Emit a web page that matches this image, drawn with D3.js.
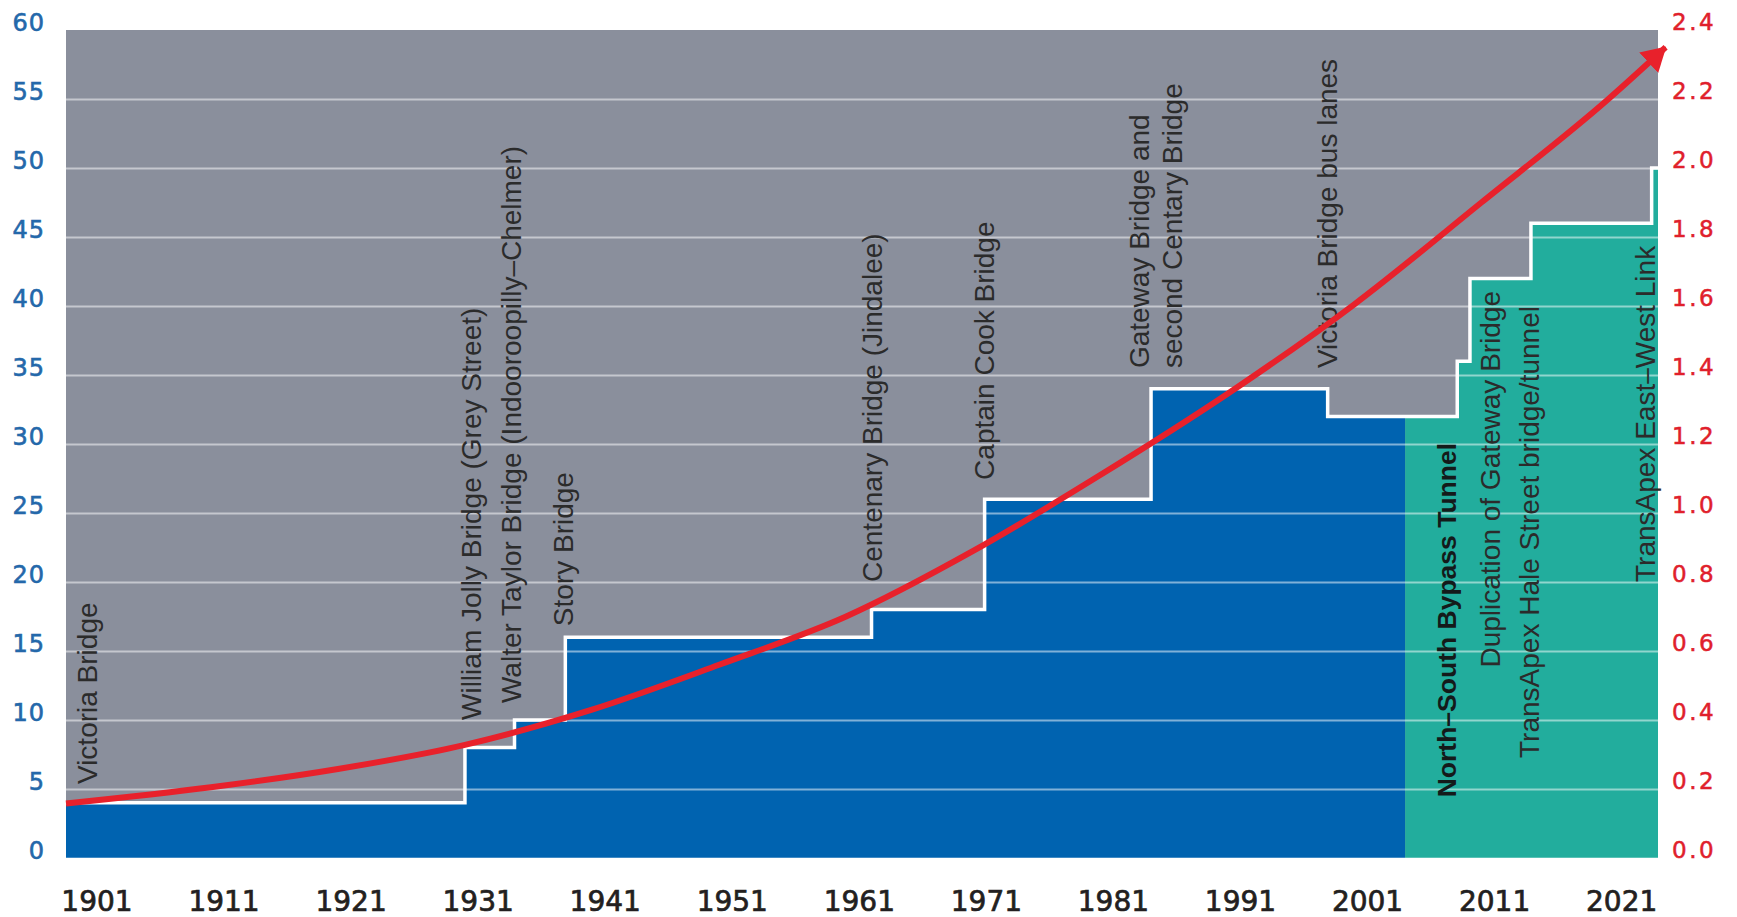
<!DOCTYPE html>
<html>
<head>
<meta charset="utf-8">
<script src="https://cdn.jsdelivr.net/npm/d3@7"></script>
<style>
  body { margin: 0; background: #ffffff; }
  .axis text { font-family: "DejaVu Sans", sans-serif; }
  .note { font-family: "Liberation Sans", Arial, sans-serif; font-size: 28px; fill: #2b2b2b; }
</style>
</head>
<body>
<svg></svg>
<script>
// lanes across the river, stepping up each time a crossing opened
var stepYears = [1898.6, 1930.0, 1933.9, 1937.9, 1962.0, 1970.9, 1984.0, 1997.9, 2008.1, 2009.1, 2013.9, 2023.4];
var laneCounts = [4, 8, 10, 16, 18, 26, 34, 32, 36, 42, 46, 50];
var plannedFrom = 2004.0; // teal part = planned projects
var lastYear = 2023.9;

// red growth curve, read on the right hand axis
var curveYears = [1898.6, 1910, 1920, 1930, 1940, 1950, 1960, 1970, 1980, 1990, 2000, 2010, 2020, 2024.5];
var curveValues = [0.158, 0.205, 0.258, 0.328, 0.43, 0.56, 0.70, 0.89, 1.11, 1.345, 1.605, 1.90, 2.20, 2.35];

// tick labels
var yearTicks = [1901, 1911, 1921, 1931, 1941, 1951, 1961, 1971, 1981, 1991, 2001, 2011, 2021];
var laneTicks = [0, 5, 10, 15, 20, 25, 30, 35, 40, 45, 50, 55, 60];
var rightTicks = [0, 0.2, 0.4, 0.6, 0.8, 1.0, 1.2, 1.4, 1.6, 1.8, 2.0, 2.2, 2.4];

// the annotations: text, year and lane value where the text starts
var noteTexts = [
  "Victoria Bridge",
  "William Jolly Bridge (Grey Street)",
  "Walter Taylor Bridge (Indooroopilly\u2013Chelmer)",
  "Story Bridge",
  "Centenary Bridge (Jindalee)",
  "Captain Cook Bridge",
  "Gateway Bridge and",
  "second Centary Bridge",
  "Victoria Bridge bus lanes",
  "North\u2013South Bypass Tunnel",
  "Duplication of Gateway Bridge",
  "TransApex Hale Street bridge/tunnel",
  "TransApex East\u2013West Link"
];
var noteYears = [1901.05, 1931.3, 1934.4, 1938.5, 1962.8, 1971.65, 1983.8, 1986.4, 1998.6, 2008.0, 2011.5, 2014.5, 2023.7];
var noteLanes = [5.36, 10.0, 11.23, 16.8, 20.0, 27.4, 35.5, 35.5, 35.5, 4.4, 13.8, 7.25, 20.0];
var noteBold = [false, false, false, false, false, false, false, false, false, true, false, false, false];

var makeTranslateString = function (x, y) {
  return "translate(" + x + "," + y + ")";
};

var drawAreas = function (target, graph, xScale, yScale) {
  var steps = stepYears.map(function (year, i) {
    return { year: year, lanes: laneCounts[i] };
  });

  var lanesAt = function (year) {
    var value = steps[0].lanes;
    steps.forEach(function (s) {
      if (s.year <= year) value = s.lanes;
    });
    return value;
  };

  var built = steps.filter(function (s) { return s.year < plannedFrom; });
  built.push({ year: plannedFrom, lanes: lanesAt(plannedFrom) });

  var planned = [{ year: plannedFrom, lanes: lanesAt(plannedFrom) }].concat(
    steps.filter(function (s) { return s.year > plannedFrom; })
  );
  planned.push({ year: lastYear, lanes: lanesAt(lastYear) });

  var area = d3.area()
    .curve(d3.curveStepAfter)
    .x(function (d) { return xScale(d.year); })
    .y0(graph.height)
    .y1(function (d) { return yScale(d.lanes); });

  target.append("rect")
    .attr("width", graph.width)
    .attr("height", graph.height)
    .attr("fill", "#8a8f9c");

  target.append("path").datum(built).attr("d", area).attr("fill", "#0063b0");
  target.append("path").datum(planned).attr("d", area).attr("fill", "#22ad9d");

  //grid lines on top of the fills
  var grid = d3.axisLeft(yScale)
    .tickValues(laneTicks.filter(function (t) { return t < 60; }))
    .tickSize(-graph.width)
    .tickFormat("");
  target.append("g")
    .attr("class", "grid")
    .call(grid)
    .call(function (g) { g.select(".domain").remove(); })
    .selectAll("line")
    .attr("stroke", "#ffffff")
    .attr("stroke-opacity", 0.5)
    .attr("stroke-width", 2);

  var outline = d3.line()
    .curve(d3.curveStepAfter)
    .x(function (d) { return xScale(d.year); })
    .y(function (d) { return yScale(d.lanes); });

  var all = steps.concat([{ year: lastYear, lanes: lanesAt(lastYear) }]);
  target.append("path")
    .datum(all)
    .attr("d", outline)
    .attr("fill", "none")
    .attr("stroke", "#ffffff")
    .attr("stroke-width", 3.5);
};

var drawNotes = function (target, xScale, yScale) {
  target.selectAll("text.note")
    .data(noteTexts)
    .enter()
    .append("text")
    .attr("class", "note")
    .attr("transform", function (d, i) {
      return makeTranslateString(xScale(noteYears[i]), yScale(noteLanes[i])) + " rotate(-90)";
    })
    .style("font-weight", function (d, i) { return noteBold[i] ? "bold" : "normal"; })
    .style("font-size", function (d, i) { return noteBold[i] ? "26.5px" : "28px"; })
    .style("fill", function (d, i) { return noteBold[i] ? "#141a1a" : "#2b2b2b"; })
    .text(function (d) { return d; });
};

var drawCurve = function (svg, target, xScale, rightScale) {
  svg.append("defs")
    .append("marker")
    .attr("id", "head")
    .attr("markerUnits", "userSpaceOnUse")
    .attr("viewBox", "0 -15 24 30")
    .attr("refX", 23)
    .attr("refY", 0)
    .attr("markerWidth", 24)
    .attr("markerHeight", 30)
    .attr("orient", "auto")
    .append("path")
    .attr("d", "M0,-14L24,0L0,14Z")
    .attr("fill", "#e8212b");

  var line = d3.line()
    .curve(d3.curveMonotoneX)
    .x(function (d, i) { return xScale(curveYears[i]); })
    .y(function (d) { return rightScale(d); });

  target.append("path")
    .datum(curveValues)
    .attr("d", line)
    .attr("fill", "none")
    .attr("stroke", "#e8212b")
    .attr("stroke-width", 6)
    .attr("marker-end", "url(#head)");
};

var drawAxes = function (svg, graph, margins, xScale, yScale, rightScale) {
  var xAxis = d3.axisBottom(xScale).tickValues(yearTicks).tickSize(0).tickFormat(d3.format("d"));
  var yAxis = d3.axisLeft(yScale).tickValues(laneTicks).tickSize(0).tickPadding(21);
  var rAxis = d3.axisRight(rightScale).tickValues(rightTicks).tickSize(0).tickPadding(14).tickFormat(d3.format(".1f"));

  var gx = svg.append("g")
    .attr("class", "axis")
    .attr("transform", makeTranslateString(margins.left, margins.top + graph.height))
    .call(xAxis);
  gx.selectAll("text")
    .attr("y", 53)
    .attr("dy", 0)
    .style("font-size", "28px")
    .style("fill", "#231f20")
    .style("stroke", "#231f20")
    .style("stroke-width", 0.7);

  var gy = svg.append("g")
    .attr("class", "axis")
    .attr("transform", makeTranslateString(margins.left, margins.top))
    .call(yAxis);
  gy.selectAll("text")
    .attr("dy", 0)
    .style("font-size", "24px")
    .style("letter-spacing", "1px")
    .style("fill", "#2468aa")
    .style("stroke", "#2468aa")
    .style("stroke-width", 0.6);

  var gr = svg.append("g")
    .attr("class", "axis")
    .attr("transform", makeTranslateString(margins.left + graph.width, margins.top))
    .call(rAxis);
  gr.selectAll("text")
    .attr("dy", -1)
    .style("font-size", "23px")
    .style("letter-spacing", "2.5px")
    .style("fill", "#e0202b")
    .style("stroke", "#e0202b")
    .style("stroke-width", 0.5);

  svg.selectAll(".axis .domain").remove();
};

var initGraph = function () {
  var screen = { width: 1737, height: 917 };
  var margins = { left: 66, right: 79, top: 30, bottom: 59 };
  var graph = {
    width: screen.width - margins.left - margins.right,
    height: screen.height - margins.top - margins.bottom
  };

  var svg = d3.select("svg").attr("width", screen.width).attr("height", screen.height);

  var xScale = d3.scaleLinear().domain([stepYears[0], lastYear]).range([0, graph.width]);
  var yScale = d3.scaleLinear().domain([0, 60]).range([graph.height, 0]);
  var rightScale = d3.scaleLinear().domain([0, 2.4]).range([graph.height, 0]);

  var target = svg.append("g")
    .attr("id", "plot")
    .attr("transform", makeTranslateString(margins.left, margins.top));

  drawAreas(target, graph, xScale, yScale);
  drawNotes(target, xScale, yScale);
  drawCurve(svg, target, xScale, rightScale);
  drawAxes(svg, graph, margins, xScale, yScale, rightScale);
};

initGraph();
</script>
</body>
</html>
